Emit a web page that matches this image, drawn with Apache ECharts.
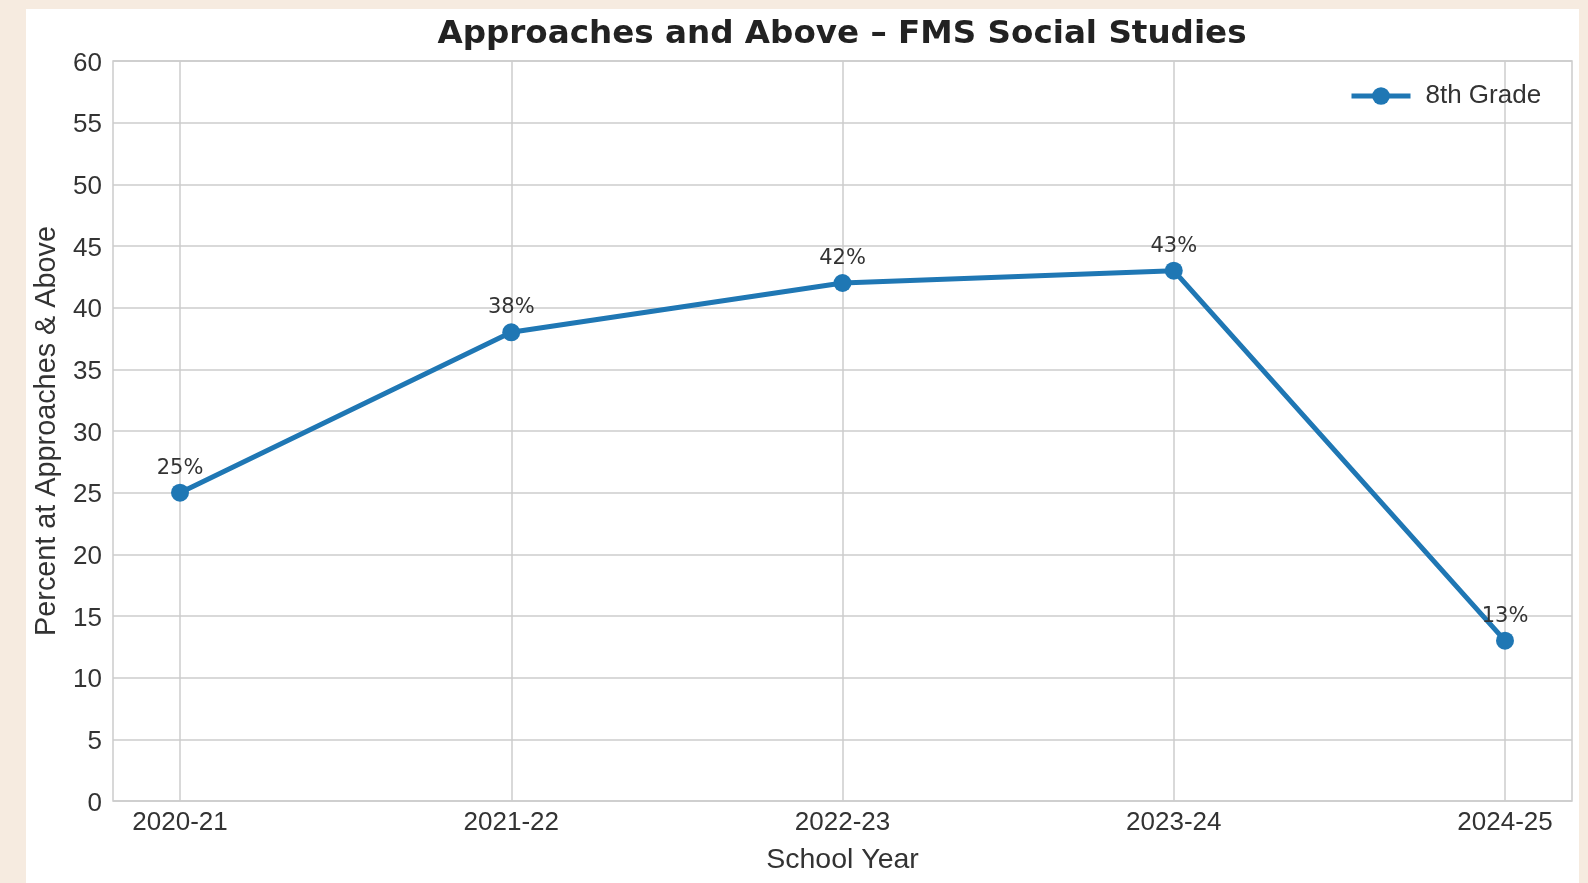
<!DOCTYPE html>
<html>
<head>
<meta charset="utf-8">
<title>Approaches and Above – FMS Social Studies</title>
<script src="https://cdn.jsdelivr.net/npm/echarts@6/dist/echarts.min.js"></script>
<style>
  html, body { margin: 0; padding: 0; background: #f6ebe0; }
  #panel { position: absolute; left: 26px; top: 9px; width: 1553px; height: 874px; background: #ffffff; }
  #chart { position: absolute; left: 0; top: 0; width: 1588px; height: 883px; }
</style>
</head>
<body>
<div id="panel"></div>
<div id="chart"></div>
<script>
// School years on the x axis and 8th grade percentages at Approaches & Above
const schoolYears = ['2020-21', '2021-22', '2022-23', '2023-24', '2024-25'];
const grade8Values = [25, 38, 42, 43, 13];
const seriesName = '8th Grade';
const yMin = 0;
const yMax = 60;
const yStep = 5;

const SANS = '"Liberation Sans", Arial, sans-serif';
const DEJAVU = '"DejaVu Sans", sans-serif';
const GRID_COLOR = '#cccccc';
const LINE_COLOR = '#1f77b4';
const TEXT_COLOR = '#333333';

const chart = echarts.init(document.getElementById('chart'), null, { renderer: 'canvas' });

chart.setOption({
  backgroundColor: 'transparent',
  animation: false,
  title: {
    text: 'Approaches and Above – FMS Social Studies',
    left: 842,
    textAlign: 'center',
    top: 18,
    padding: 0,
    textStyle: { fontFamily: DEJAVU, fontWeight: 'bold', fontSize: 32.6, color: '#222222' }
  },
  legend: {
    data: [seriesName],
    left: 1349,
    top: 83,
    padding: 0,
    itemWidth: 59,
    itemHeight: 22,
    lineStyle: { width: 5 },
    textStyle: { fontFamily: SANS, fontSize: 26, color: TEXT_COLOR, padding: [0, 0, 0, 10] }
  },
  grid: [
    // frame + horizontal grid
    { left: 113, top: 61, width: 1459, height: 740, show: true, borderColor: GRID_COLOR, borderWidth: 1.5, backgroundColor: 'transparent' },
    // data area, inset so the first and last years sit away from the frame
    { left: 180, top: 61, width: 1325, height: 740 }
  ],
  xAxis: [
    { gridIndex: 0, type: 'value', min: 0, max: 1, show: false },
    {
      gridIndex: 1,
      type: 'category',
      data: schoolYears,
      boundaryGap: false,
      axisLine: { show: false },
      axisTick: { show: false },
      axisLabel: { interval: 0, fontFamily: SANS, fontSize: 26, color: TEXT_COLOR, margin: 9 },
      splitLine: { show: true, interval: 0, lineStyle: { color: GRID_COLOR, width: 1.5 } },
      name: 'School Year',
      nameLocation: 'middle',
      nameGap: 45,
      nameTextStyle: { fontFamily: SANS, fontSize: 28.5, color: TEXT_COLOR }
    }
  ],
  yAxis: [
    {
      gridIndex: 0,
      type: 'value',
      min: yMin,
      max: yMax,
      interval: yStep,
      axisLine: { show: false },
      axisTick: { show: false },
      axisLabel: {
        margin: 11,
        formatter: (v) => '{t|' + v + '}',
        rich: { t: { fontFamily: SANS, fontSize: 26, color: TEXT_COLOR, padding: [5, 0, 0, 0] } }
      },
      splitLine: { show: true, lineStyle: { color: GRID_COLOR, width: 1.5 } },
      name: 'Percent at Approaches & Above',
      nameLocation: 'middle',
      nameGap: 51,
      nameTextStyle: { fontFamily: SANS, fontSize: 28.8, color: TEXT_COLOR }
    },
    { gridIndex: 1, type: 'value', min: yMin, max: yMax, interval: yStep, show: false }
  ],
  series: [
    {
      name: seriesName,
      type: 'line',
      xAxisIndex: 1,
      yAxisIndex: 1,
      data: grade8Values,
      symbol: 'circle',
      symbolSize: 18,
      color: LINE_COLOR,
      lineStyle: { color: LINE_COLOR, width: 5 },
      itemStyle: { color: LINE_COLOR },
      label: {
        show: true,
        position: 'top',
        distance: 5,
        formatter: '{c}%',
        fontFamily: DEJAVU,
        fontSize: 21,
        color: TEXT_COLOR
      },
      z: 5
    }
  ]
});
</script>
</body>
</html>
